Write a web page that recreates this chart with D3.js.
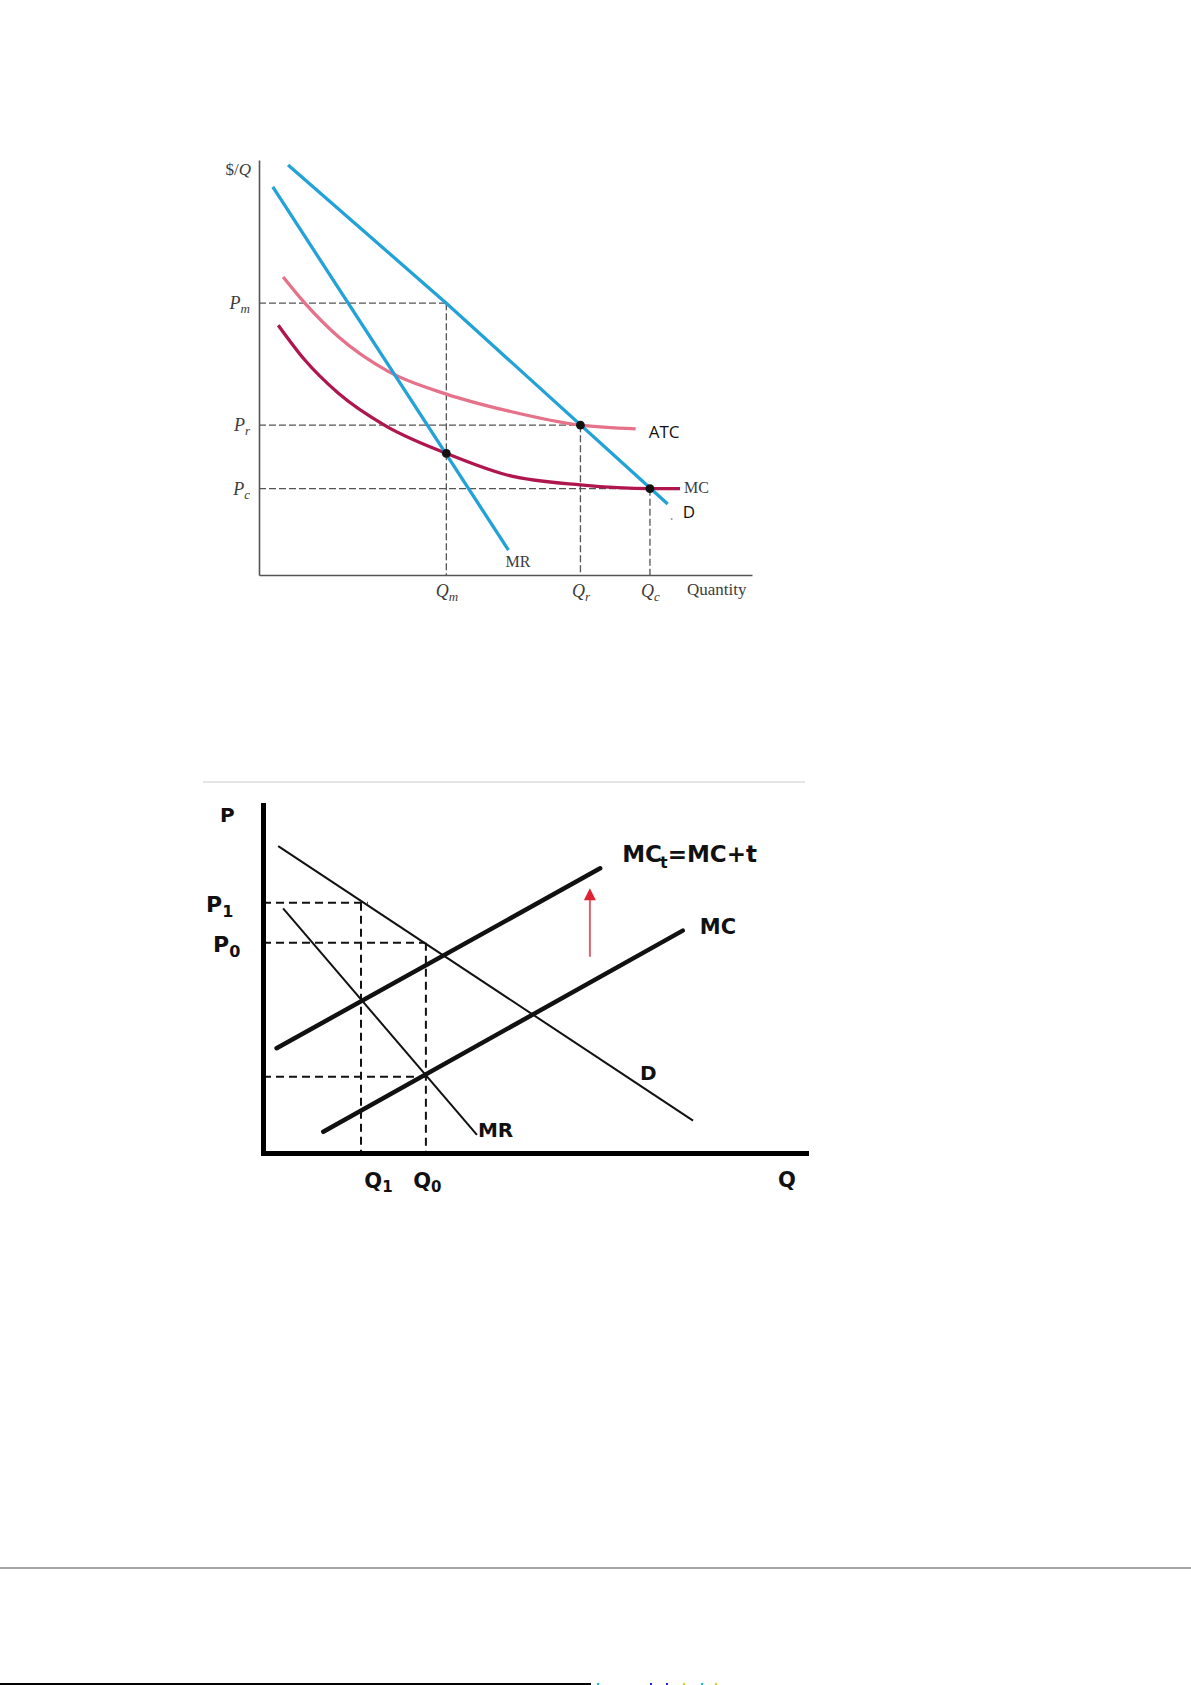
<!DOCTYPE html>
<html>
<head>
<meta charset="utf-8">
<script src="https://d3js.org/d3.v7.min.js"></script>
<style>
body { margin: 0; background: #fff; }
svg { display: block; }
</style>
</head>
<body>
<svg id="chart" width="1191" height="1685"></svg>
<script>
// Top chart: natural monopoly regulation. Values in chart units (0..100 on both axes).
var demand1 = [[5.9, 98.8], [38, 65.5], [82.9, 17.1]];
var mr1 = [[2.8, 93.5], [50.6, 6.0]];
var atc1 = [[4.9, 71.8], [9.3, 65.5], [16.1, 57.4], [26.3, 49.0], [38, 43.6], [50.3, 39.6], [65.2, 36.1], [76.4, 35.2]];
var mc1 = [[3.9, 60.2], [9.3, 51.8], [16.1, 43.8], [25.6, 36.0], [38, 29.3], [50.3, 24.1], [65.2, 21.7], [79.3, 20.8], [85.4, 20.8]];
var qTicks1 = [38, 65.2, 79.3];
var qLabels1 = [["Q", "m"], ["Q", "r"], ["Q", "c"]];
var pTicks1 = [65.5, 36.1, 20.8];
var pLabels1 = [["P", "m"], ["P", "r"], ["P", "c"]];
var dots1 = [[38, 29.3], [65.2, 36.1], [79.3, 20.8]];

// Bottom chart: monopoly with a per-unit tax.
var demand2 = [[2.8, 88.2], [79.2, 9.3]];
var mr2 = [[3.7, 70.3], [39.4, 5.2]];
var mc2 = [[11.1, 6.1], [77.3, 63.9]];
var mct2 = [[2.5, 30.1], [62.1, 81.8]];
var qTicks2 = [18.05, 30];
var qLabels2 = [["Q", "1"], ["Q", "0"]];
var pTicks2 = [71.9, 60.4, 21.9];
var pLabels2 = [["P", "1"], ["P", "0"], ["", ""]];
var pDashEnd2 = [19.3, 29.8, 30];
var taxArrow = [60.2, 56.4, 76.1]; // x, from, to

var svg = d3.select("#chart");

//writes "main" + subscript into a text selection
function subText(t, main, sub, subSize, subDy, italic) {
    t.text(null);
    t.append("tspan").text(main).style("font-style", italic ? "italic" : null);
    t.append("tspan").text(sub).attr("dy", subDy).style("font-size", subSize + "px")
        .style("font-style", italic ? "italic" : null);
}

// ---------- top chart ----------
var x1 = d3.scaleLinear().domain([0, 100]).range([259, 752]);
var y1 = d3.scaleLinear().domain([0, 100]).range([575, 160]);
var g1 = svg.append("g");
var serif = "'Liberation Serif', 'DejaVu Serif', serif";
var gray = "#3c3c3c";

// dashed guides
pTicks1.forEach(function(p, i) {
    g1.append("line").attr("x1", x1(0)).attr("x2", x1(qTicks1[i]))
        .attr("y1", y1(p)).attr("y2", y1(p))
        .attr("stroke", "#555").attr("stroke-width", 1.3).attr("stroke-dasharray", "7,3");
    g1.append("line").attr("x1", x1(qTicks1[i])).attr("x2", x1(qTicks1[i]))
        .attr("y1", y1(p)).attr("y2", y1(0))
        .attr("stroke", "#555").attr("stroke-width", 1.3).attr("stroke-dasharray", "7,3");
});

var yAxis1 = g1.append("g").attr("transform", "translate(" + x1(0) + ",0)")
    .call(d3.axisLeft(y1).tickValues(pTicks1).tickSize(0).tickSizeOuter(0).tickPadding(9));
var xAxis1 = g1.append("g").attr("transform", "translate(0," + y1(0) + ")")
    .call(d3.axisBottom(x1).tickValues(qTicks1).tickSize(0).tickSizeOuter(0).tickPadding(9));
[yAxis1, xAxis1].forEach(function(a) {
    a.select(".domain").attr("stroke", "#555").attr("stroke-width", 1.6);
    a.selectAll(".tick text").attr("fill", gray).style("font-family", serif).style("font-size", "18px");
});
yAxis1.selectAll(".tick text").each(function(d, i) {
    subText(d3.select(this), pLabels1[i][0], pLabels1[i][1], 13, 4, true);
});
xAxis1.selectAll(".tick text").each(function(d, i) {
    subText(d3.select(this), qLabels1[i][0], qLabels1[i][1], 13, 4, true);
});

var line1 = d3.line().x(function(d) { return x1(d[0]); }).y(function(d) { return y1(d[1]); });
var curve1 = d3.line().curve(d3.curveMonotoneX).x(function(d) { return x1(d[0]); }).y(function(d) { return y1(d[1]); });

g1.append("path").attr("d", curve1(atc1)).attr("fill", "none").attr("stroke", "#e5728a").attr("stroke-width", 3.3);
g1.append("path").attr("d", curve1(mc1)).attr("fill", "none").attr("stroke", "#b0164e").attr("stroke-width", 3.3);
g1.append("path").attr("d", line1(mr1)).attr("fill", "none").attr("stroke", "#22a2d6").attr("stroke-width", 3.3);
g1.append("path").attr("d", line1(demand1)).attr("fill", "none").attr("stroke", "#22a2d6").attr("stroke-width", 3.3);

g1.selectAll("circle.dot").data(dots1).enter().append("circle")
    .attr("cx", function(d) { return x1(d[0]); }).attr("cy", function(d) { return y1(d[1]); })
    .attr("r", 4.4).attr("fill", "#111");

// axis titles and curve labels
var ql = g1.append("text").attr("x", x1(0) - 8).attr("y", 175).attr("text-anchor", "end")
    .attr("fill", gray).style("font-family", serif).style("font-size", "17px");
ql.append("tspan").text("$/");
ql.append("tspan").text("Q").style("font-style", "italic");
g1.append("text").attr("x", 687).attr("y", y1(0) + 20).attr("fill", gray)
    .style("font-family", serif).style("font-size", "17px").text("Quantity");

var mrEnd = mr1[mr1.length - 1], mcEnd = mc1[mc1.length - 1], atcEnd = atc1[atc1.length - 1], dEnd = demand1[demand1.length - 1];
g1.append("text").attr("x", x1(mrEnd[0]) - 3).attr("y", y1(mrEnd[1]) + 17).attr("fill", gray)
    .style("font-family", serif).style("font-size", "16px").text("MR");
g1.append("text").attr("x", x1(mcEnd[0]) + 4).attr("y", y1(mcEnd[1]) + 4).attr("fill", gray)
    .style("font-family", serif).style("font-size", "16px").text("MC");
g1.append("text").attr("x", x1(atcEnd[0]) + 13).attr("y", y1(atcEnd[1]) + 9).attr("fill", "#111")
    .style("font-family", "'Open Sans', sans-serif").style("font-size", "17px").text("ATC");
g1.append("text").attr("x", x1(dEnd[0]) + 15).attr("y", y1(dEnd[1]) + 14).attr("fill", "#111")
    .style("font-family", "'Open Sans', sans-serif").style("font-size", "17px").text("D");
g1.append("circle").attr("cx", x1(dEnd[0]) + 4).attr("cy", y1(dEnd[1]) + 15).attr("r", 1).attr("fill", "#999");

// separator above second chart
svg.append("line").attr("x1", 203).attr("x2", 805).attr("y1", 782).attr("y2", 782)
    .attr("stroke", "#ddd").attr("stroke-width", 1.5);

// ---------- bottom chart ----------
var x2 = d3.scaleLinear().domain([0, 100]).range([263, 806]);
var y2 = d3.scaleLinear().domain([0, 100]).range([1153, 805]);
var g2 = svg.append("g");
var bold = "'DejaVu Sans', Verdana, sans-serif";

pTicks2.forEach(function(p, i) {
    g2.append("line").attr("x1", x2(0)).attr("x2", x2(pDashEnd2[i]))
        .attr("y1", y2(p)).attr("y2", y2(p))
        .attr("stroke", "#111").attr("stroke-width", 2).attr("stroke-dasharray", "8,5");
});
qTicks2.forEach(function(q, i) {
    g2.append("line").attr("x1", x2(q)).attr("x2", x2(q))
        .attr("y1", y2(pTicks2[i])).attr("y2", y2(0))
        .attr("stroke", "#111").attr("stroke-width", 2).attr("stroke-dasharray", "8,5");
});

var line2 = d3.line().x(function(d) { return x2(d[0]); }).y(function(d) { return y2(d[1]); });
g2.append("path").attr("d", line2(demand2)).attr("fill", "none").attr("stroke", "#111").attr("stroke-width", 2);
g2.append("path").attr("d", line2(mr2)).attr("fill", "none").attr("stroke", "#111").attr("stroke-width", 2);
g2.append("path").attr("d", line2(mc2)).attr("fill", "none").attr("stroke", "#111").attr("stroke-width", 4.5).attr("stroke-linecap", "round");
g2.append("path").attr("d", line2(mct2)).attr("fill", "none").attr("stroke", "#111").attr("stroke-width", 4.5).attr("stroke-linecap", "round");

var yAxis2 = g2.append("g").attr("transform", "translate(" + x2(0) + ",0)")
    .call(d3.axisLeft(y2).tickValues([]).tickSizeOuter(0));
var xAxis2 = g2.append("g").attr("transform", "translate(0," + y2(0) + ")")
    .call(d3.axisBottom(x2).tickValues(qTicks2).tickSize(0).tickSizeOuter(0).tickPadding(20));
[yAxis2, xAxis2].forEach(function(a) {
    a.select(".domain").attr("stroke", "#000").attr("stroke-width", 5).attr("stroke-linecap", "square");
});
var qShift2 = [17, 1];
xAxis2.selectAll(".tick text").each(function(d, i) {
    var t = d3.select(this).attr("fill", "#111").attr("dx", qShift2[i])
        .style("font-family", bold).style("font-weight", "bold").style("font-size", "21px");
    subText(t, qLabels2[i][0], qLabels2[i][1], 15, 4, false);
});

// price labels (left of the axis)
var pLeft2 = [206, 213];
pLabels2.forEach(function(lb, i) {
    if (!lb[0]) return;
    var t = g2.append("text").attr("x", pLeft2[i]).attr("y", y2(pTicks2[i]) + 9).attr("fill", "#111")
        .style("font-family", bold).style("font-weight", "bold").style("font-size", "22px");
    subText(t, lb[0], lb[1], 16, 5, false);
});

function boldText(x, y, s, size) {
    return g2.append("text").attr("x", x).attr("y", y).attr("fill", "#111")
        .style("font-family", bold).style("font-weight", "bold").style("font-size", (size || 20) + "px").text(s);
}
boldText(220, 822, "P", 20);
boldText(778, 1187, "Q", 21);

var mctEnd = mct2[1], mc2End = mc2[1], mr2End = mr2[1], d2End = demand2[1];
var mctLabel = boldText(x2(mctEnd[0]) + 22, y2(mctEnd[1]) - 6, "", 23);
mctLabel.append("tspan").text("MC");
mctLabel.append("tspan").text("t").attr("dy", 6).attr("dx", -2).style("font-size", "16px");
mctLabel.append("tspan").text("=MC+t").attr("dy", -6);
boldText(x2(mc2End[0]) + 17, y2(mc2End[1]) + 3, "MC", 21);
boldText(x2(mr2End[0]) + 1, y2(mr2End[1]) + 2, "MR", 20);
boldText(x2(d2End[0]) - 53, y2(d2End[1]) - 41, "D", 20);

// tax shift arrow
g2.append("line").attr("x1", x2(taxArrow[0])).attr("x2", x2(taxArrow[0]))
    .attr("y1", y2(taxArrow[1])).attr("y2", y2(taxArrow[2]) + 10)
    .attr("stroke", "#e0606e").attr("stroke-width", 2);
var ax = x2(taxArrow[0]), ay = y2(taxArrow[2]);
g2.append("path").attr("d", "M" + ax + "," + ay + "L" + (ax - 6) + "," + (ay + 12) + "L" + (ax + 6) + "," + (ay + 12) + "Z")
    .attr("fill", "#dd2232");

// page furniture at the bottom
svg.append("line").attr("x1", 0).attr("x2", 1191).attr("y1", 1568).attr("y2", 1568)
    .attr("stroke", "#8a8a8a").attr("stroke-width", 1.5);
svg.append("rect").attr("x", 0).attr("y", 1683).attr("width", 591).attr("height", 2).attr("fill", "#000");
var specks = [[597, "#00c8c8"], [650, "#2020ff"], [666, "#2020ff"], [683, "#e0d000"], [701, "#00c8c8"], [715, "#e0d000"]];
svg.selectAll("rect.speck").data(specks).enter().append("rect")
    .attr("x", function(d) { return d[0]; }).attr("y", 1683).attr("width", 2).attr("height", 2)
    .attr("fill", function(d) { return d[1]; });
</script>
</body>
</html>
